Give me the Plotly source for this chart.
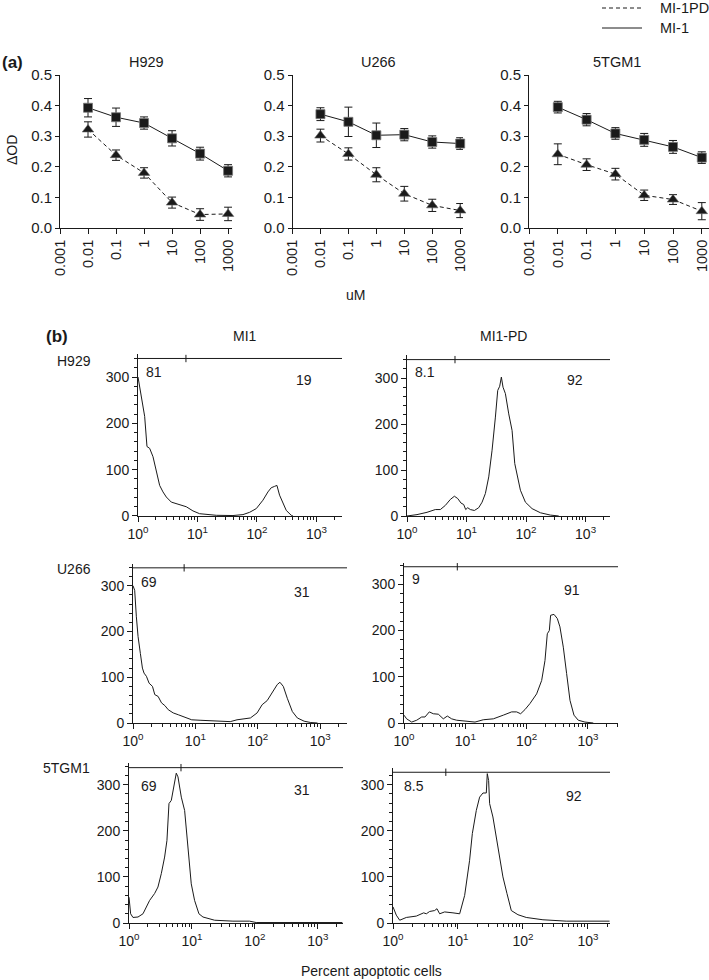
import plotly.graph_objects as go

W, H = 709, 980
FONT = "Liberation Sans, Arial, Helvetica, sans-serif"
INK = "#1a1a1a"

# ---------------- Panel (a): dose response data ----------------
conc = [0.01, 0.1, 1, 10, 100, 1000]
conc_ticks = [0.001, 0.01, 0.1, 1, 10, 100, 1000]
conc_ticklabels = ["0.001", "0.01", "0.1", "1", "10", "100", "1000"]
od_ticks = [0.0, 0.1, 0.2, 0.3, 0.4, 0.5]
od_ticklabels = ["0.0", "0.1", "0.2", "0.3", "0.4", "0.5"]

h929_mi1 = [0.393, 0.362, 0.343, 0.293, 0.243, 0.187]
h929_mi1_err = [0.030, 0.030, 0.020, 0.025, 0.021, 0.020]
h929_pd = [0.322, 0.238, 0.180, 0.083, 0.044, 0.046]
h929_pd_err = [0.025, 0.017, 0.017, 0.018, 0.019, 0.022]

u266_mi1 = [0.372, 0.347, 0.303, 0.305, 0.281, 0.276]
u266_mi1_err = [0.021, 0.048, 0.040, 0.020, 0.020, 0.019]
u266_pd = [0.302, 0.242, 0.174, 0.112, 0.074, 0.057]
u266_pd_err = [0.021, 0.020, 0.023, 0.024, 0.020, 0.023]

tgm_mi1 = [0.395, 0.354, 0.309, 0.288, 0.265, 0.230]
tgm_mi1_err = [0.019, 0.020, 0.019, 0.021, 0.021, 0.019]
tgm_pd = [0.241, 0.207, 0.176, 0.107, 0.093, 0.055]
tgm_pd_err = [0.034, 0.019, 0.019, 0.017, 0.016, 0.028]

# ---------------- Panel (b): flow cytometry histograms ----------------
# fluorescence positions read as log10 decades, counts
h929_mi1_logfl = [0, 0.056, 0.112, 0.151, 0.196, 0.252, 0.308, 0.364, 0.42, 0.476,
                  0.56, 0.70, 0.812, 0.924, 1.036, 1.317, 1.597, 1.765, 1.877, 1.989,
                  2.10, 2.185, 2.24, 2.297, 2.336, 2.38, 2.437, 2.493, 2.577, 2.605]
h929_mi1_cnt = [300, 258, 215, 150, 146, 128, 99, 66, 52, 41,
                30, 25, 20, 11, 5, 1.5, 1, 3, 8, 16,
                34, 52, 61, 64, 66, 45, 27, 12, 1.5, 0]

h929_pd_logfl = [0, 0.168, 0.336, 0.476, 0.560, 0.644, 0.728, 0.796, 0.852, 0.908,
                 0.952, 0.986, 1.020, 1.064, 1.132, 1.204, 1.261, 1.317, 1.373, 1.429,
                 1.485, 1.524, 1.557, 1.585, 1.613, 1.653, 1.709, 1.765, 1.81, 1.849,
                 1.905, 1.989, 2.101, 2.241, 2.409, 2.549]
h929_pd_cnt = [0, 3, 8, 14, 14, 23, 36, 43, 38, 28,
               25, 14, 18, 14, 12, 18, 30, 49, 85, 143,
               215, 273, 282, 302, 280, 266, 222, 186, 114, 92,
               56, 30, 16, 7, 2, 0]

u266_mi1_logfl = [0, 0.027, 0.054, 0.081, 0.118, 0.151, 0.177, 0.215, 0.258, 0.312,
                  0.349, 0.403, 0.457, 0.511, 0.565, 0.645, 0.726, 0.833, 0.941, 1.075,
                  1.344, 1.559, 1.667, 1.774, 1.882, 1.989, 2.07, 2.151, 2.231, 2.312,
                  2.355, 2.409, 2.473, 2.554, 2.634, 2.742, 2.849, 2.957]
u266_mi1_cnt = [300, 290, 232, 189, 152, 120, 109, 102, 87, 80,
                62, 58, 44, 38, 29, 22, 18, 13, 7, 6,
                4, 3, 7, 9, 11, 22, 40, 49, 65, 84,
                89, 80, 54, 25, 11, 4, 1, 0]

u266_pd_logfl = [0, 0.043, 0.125, 0.207, 0.288, 0.342, 0.413, 0.478, 0.56, 0.641,
                 0.707, 0.777, 0.859, 1.022, 1.158, 1.293, 1.457, 1.62, 1.755, 1.837,
                 1.902, 1.973, 2.054, 2.163, 2.245, 2.299, 2.337, 2.37, 2.391, 2.446,
                 2.5, 2.543, 2.598, 2.652, 2.707, 2.772, 2.842, 2.951, 3.087]
u266_pd_cnt = [17, 9, 2, 6, 13, 13, 24, 20, 19, 9,
               15, 9, 6, 4, 2, 7, 9, 17, 24, 24,
               20, 29, 42, 63, 92, 135, 193, 200, 233, 235,
               226, 208, 164, 107, 49, 17, 6, 2, 0]

tgm_mi1_logfl = [0, 0.026, 0.063, 0.143, 0.222, 0.275, 0.328, 0.407, 0.46, 0.513,
                 0.566, 0.603, 0.635, 0.672, 0.698, 0.725, 0.751, 0.778, 0.831, 0.884,
                 0.937, 0.989, 1.042, 1.111, 1.175, 1.28, 1.36, 1.651, 1.915, 2.021,
                 2.444, 3.238, 3.39]
tgm_mi1_cnt = [56, 20, 12, 13, 20, 35, 49, 64, 78, 107,
               143, 179, 259, 266, 288, 313, 325, 317, 273, 244,
               158, 85, 49, 20, 13, 9, 6, 4, 4, 1,
               1, 1, 1]

tgm_pd_logfl = [0.0, 0.051, 0.103, 0.205, 0.359, 0.436, 0.472, 0.513, 0.564, 0.641,
                0.677, 0.718, 0.795, 0.923, 1.026, 1.103, 1.179, 1.221, 1.282, 1.333,
                1.385, 1.436, 1.451, 1.472, 1.487, 1.538, 1.59, 1.641, 1.692, 1.754,
                1.821, 1.923, 2.051, 2.308, 2.667, 3.333]
tgm_pd_cnt = [35, 17, 6, 12, 15, 19, 22, 20, 25, 27,
              31, 20, 24, 22, 20, 60, 136, 194, 244, 273,
              282, 282, 324, 309, 259, 230, 186, 136, 100, 64,
              27, 18, 12, 7, 4, 4]

fl_ticks = [1, 10, 100, 1000]
fl_ticklabels = ["10<sup>0</sup>", "10<sup>1</sup>", "10<sup>2</sup>", "10<sup>3</sup>"]
cnt_ticks = [0, 100, 200, 300]
cnt_ticklabels = ["0", "100", "200", "300"]

pct_labels = [("81", "19"), ("8.1", "92"), ("69", "31"), ("9", "91"), ("69", "31"), ("8.5", "92")]
gate_split = [6.4, 6.4, 6.6, 7.4, 6.7, 6.5]
gate_level = [340, 340, 339, 338, 337, 327]

legend_names = ["MI-1PD", "MI-1"]
legend_dashes = ["4px,3px", "solid"]

# ---------------- helpers ----------------
def fx(p):
    return p / W

def fy(p):
    return 1 - p / H

fig = go.Figure()
layout = {}
annotations = []
shapes = []

# ---------------- Panel (a) ----------------
a_series = [
    ("H929", h929_mi1, h929_mi1_err, h929_pd, h929_pd_err),
    ("U266", u266_mi1, u266_mi1_err, u266_pd, u266_pd_err),
    ("5TGM1", tgm_mi1, tgm_mi1_err, tgm_pd, tgm_pd_err),
]
# (x-left px, x-right px, log range end, title x px)
a_geom = [(60, 232, 3.14, 146), (292.5, 463, 3.10, 379), (529, 709, 3.25, 617)]
a_ytop, a_ybot = 75, 228

for i, ((name, mi1, mi1e, pd_, pde), (x0, x1, xr, tx)) in enumerate(zip(a_series, a_geom)):
    k = i + 1
    xa, ya = f"x{k}", f"y{k}"
    fig.add_trace(go.Scatter(
        x=conc, y=pd_, xaxis=xa, yaxis=ya, mode="lines+markers", showlegend=False,
        cliponaxis=False,
        line=dict(color=INK, width=1, dash=legend_dashes[0]),
        marker=dict(symbol="triangle-up", size=10, color=INK, line=dict(color="#666", width=0.6)),
        error_y=dict(type="data", array=pde, color=INK, thickness=1, width=4),
    ))
    fig.add_trace(go.Scatter(
        x=conc, y=mi1, xaxis=xa, yaxis=ya, mode="lines+markers", showlegend=False,
        cliponaxis=False,
        line=dict(color=INK, width=1),
        marker=dict(symbol="square", size=9, color=INK, line=dict(color="#777", width=0.8)),
        error_y=dict(type="data", array=mi1e, color=INK, thickness=1, width=4),
    ))
    layout["xaxis" + ("" if k == 1 else str(k))] = dict(
        type="log", range=[-3, xr], domain=[fx(x0), fx(x1)], anchor=ya, automargin=False,
        showline=True, linecolor=INK, linewidth=1, ticks="outside", ticklen=5,
        tickcolor=INK, tickvals=conc_ticks, ticktext=conc_ticklabels, tickangle=-90,
        ticklabeloverflow="allow",
        showgrid=False, zeroline=False, tickfont=dict(family=FONT, size=14.5, color=INK),
    )
    layout["yaxis" + ("" if k == 1 else str(k))] = dict(
        range=[0, 0.5], domain=[fy(a_ybot), fy(a_ytop)], anchor=xa, automargin=False,
        showline=True, linecolor=INK, linewidth=1, ticks="outside", ticklen=4,
        tickcolor=INK, tickvals=od_ticks, ticktext=od_ticklabels,
        ticklabeloverflow="allow",
        showgrid=False, zeroline=False, tickfont=dict(family=FONT, size=15, color=INK),
    )
    annotations.append(dict(text=name, x=fx(tx), y=fy(62), xref="paper", yref="paper",
                            showarrow=False, xanchor="center", yanchor="middle",
                            font=dict(family=FONT, size=14.5, color=INK)))

# legend (drawn as key lines + labels)
for nm, dsh, ly in zip(legend_names, legend_dashes, (8, 28)):
    shapes.append(dict(type="line", xref="paper", yref="paper",
                       x0=fx(602), x1=fx(642), y0=fy(ly), y1=fy(ly),
                       line=dict(color=INK, width=1, dash=dsh)))
    annotations.append(dict(text=nm, x=fx(658), y=fy(ly), xref="paper", yref="paper",
                            showarrow=False, xanchor="left", yanchor="middle",
                            font=dict(family=FONT, size=14.5, color=INK)))

# ---------------- Panel (b) ----------------
hists = [
    (h929_mi1_logfl, h929_mi1_cnt), (h929_pd_logfl, h929_pd_cnt),
    (u266_mi1_logfl, u266_mi1_cnt), (u266_pd_logfl, u266_pd_cnt),
    (tgm_mi1_logfl, tgm_mi1_cnt), (tgm_pd_logfl, tgm_pd_cnt),
]
# (x origin px, x end px, log range end, y zero px, px per count unit)
b_geom = [
    (138, 342, 3.43, 516, 0.4633),
    (407, 610, 3.41, 516, 0.4600),
    (133, 347, 3.43, 723, 0.4577),
    (404, 618, 3.49, 723, 0.4623),
    (129, 343, 3.40, 923, 0.4610),
    (393, 610, 3.34, 923, 0.4610),
]
# label positions (px): left %, right %
pct_pos = [((154, 372), (304, 380)), ((425, 372), (575, 380)),
           ((149, 582), (302, 592)), ((416, 579), (572, 590)),
           ((149, 786), (302, 790)), ((414, 786), (574, 796))]

for j, ((lf, cnt), (x0, x1, xr, yb, ppu)) in enumerate(zip(hists, b_geom)):
    k = j + 4
    xa, ya = f"x{k}", f"y{k}"
    g = gate_level[j]
    ytop = g + 9
    fig.add_trace(go.Scatter(
        x=[10 ** v for v in lf], y=cnt, xaxis=xa, yaxis=ya, mode="lines",
        line=dict(color=INK, width=1), showlegend=False,
    ))
    # gate bar and divider
    fig.add_trace(go.Scatter(
        x=[1, 10 ** xr], y=[g, g], xaxis=xa, yaxis=ya, mode="lines",
        line=dict(color=INK, width=1), showlegend=False,
    ))
    s = gate_split[j]
    fig.add_trace(go.Scatter(
        x=[s, s], y=[g - 8, g + 8], xaxis=xa, yaxis=ya, mode="lines",
        line=dict(color=INK, width=1), showlegend=False,
    ))
    layout["xaxis" + str(k)] = dict(
        type="log", range=[0, xr], domain=[fx(x0), fx(x1)], anchor=ya, automargin=False,
        showline=True, linecolor=INK, linewidth=1, ticks="outside", ticklen=5,
        tickcolor=INK, tickvals=fl_ticks, ticktext=fl_ticklabels,
        ticklabeloverflow="allow",
        minor=dict(ticks="outside", ticklen=3, tickcolor=INK, dtick="D1", showgrid=False),
        showgrid=False, zeroline=False, tickfont=dict(family=FONT, size=14, color=INK),
    )
    layout["yaxis" + str(k)] = dict(
        range=[0, ytop], domain=[fy(yb), fy(yb - ytop * ppu)], anchor=xa, automargin=False,
        showline=True, linecolor=INK, linewidth=1, ticks="outside", ticklen=5,
        tickcolor=INK, tickvals=cnt_ticks, ticktext=cnt_ticklabels,
        ticklabeloverflow="allow",
        minor=dict(ticks="outside", ticklen=3, tickcolor=INK, dtick=20, showgrid=False),
        showgrid=False, zeroline=False, tickfont=dict(family=FONT, size=14, color=INK),
    )
    (lx, ly), (rx, ry) = pct_pos[j]
    for t, px_, py_ in ((pct_labels[j][0], lx, ly), (pct_labels[j][1], rx, ry)):
        annotations.append(dict(text=t, x=fx(px_), y=fy(py_), xref="paper", yref="paper",
                                showarrow=False, xanchor="center", yanchor="middle",
                                font=dict(family=FONT, size=14, color=INK)))

# ---------------- free text ----------------
texts = [
    ("<b>(a)</b>", 12, 63, 17, 0),
    ("ΔOD", 12, 150, 14, -90),
    ("uM", 355, 295, 14, 0),
    ("<b>(b)</b>", 57, 336, 17, 0),
    ("MI1", 245, 336, 14, 0),
    ("MI1-PD", 503, 336, 14, 0),
    ("H929", 74, 361, 14, 0),
    ("U266", 74, 569, 14, 0),
    ("5TGM1", 66, 768, 14, 0),
    ("Percent apoptotic cells", 371, 971, 14, 0),
]
for t, px_, py_, sz, ang in texts:
    annotations.append(dict(text=t, x=fx(px_), y=fy(py_), xref="paper", yref="paper",
                            showarrow=False, xanchor="center", yanchor="middle",
                            textangle=ang, font=dict(family=FONT, size=sz, color=INK)))

fig.update_layout(
    width=W, height=H, margin=dict(l=0, r=0, t=0, b=0, autoexpand=False),
    paper_bgcolor="white", plot_bgcolor="white",
    font=dict(family=FONT, color=INK),
    showlegend=False,
    hovermode=False,
    annotations=annotations,
    shapes=shapes,
    **layout,
)

fig.write_html("out.html", config={"displayModeBar": False, "staticPlot": True},
               post_script="document.body.style.margin='0';document.body.style.padding='0';")
